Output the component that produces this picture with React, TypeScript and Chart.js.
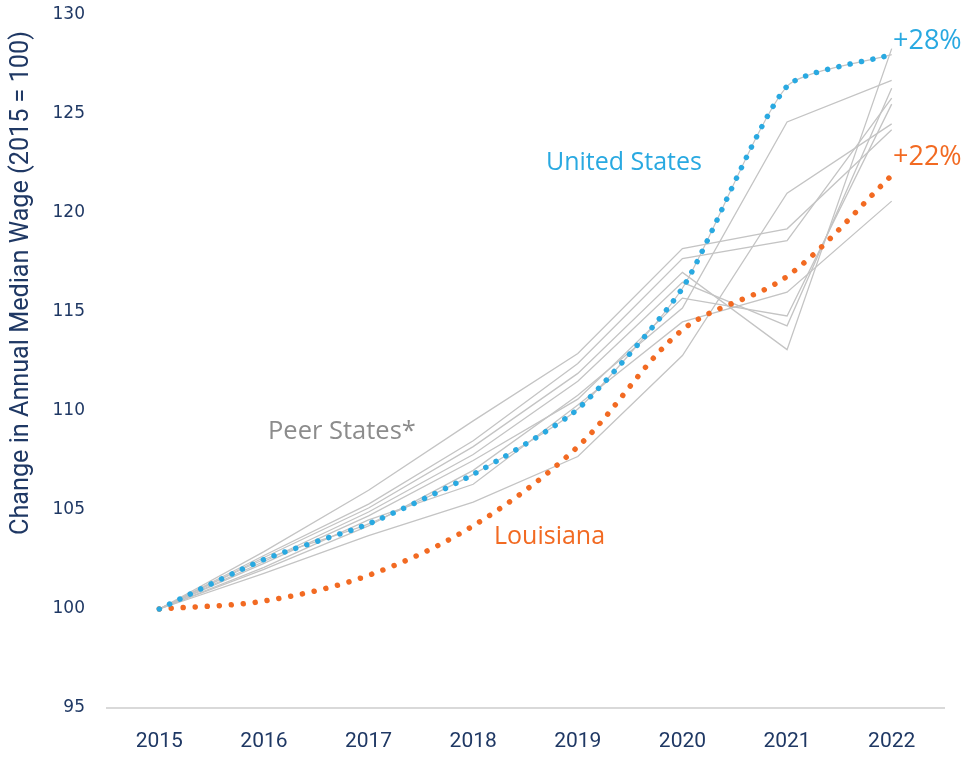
import React, { useEffect, useRef } from "react";
import { Chart, registerables } from "chart.js";

Chart.register(...registerables);

const years = ["2015", "2016", "2017", "2018", "2019", "2020", "2021", "2022"];

const unitedStates = [100, 102.5, 104.3, 106.8, 110.1, 116.2, 126.4, 128.0];
const louisiana = [100, 100.4, 101.7, 104.2, 108.2, 114.1, 116.8, 121.9];

const peer1 = [100, 102.9, 106.0, 109.5, 112.9, 118.2, 119.2, 124.2];
const peer2 = [100, 102.7, 105.3, 108.5, 112.4, 117.7, 118.6, 125.8];
const peer3 = [100, 102.6, 105.1, 108.2, 111.9, 117.0, 113.1, 128.3];
const peer4 = [100, 102.4, 104.9, 107.8, 111.5, 116.5, 114.3, 126.3];
const peer5 = [100, 102.3, 104.7, 107.5, 110.6, 115.7, 114.8, 125.5];
const peer6 = [100, 102.1, 104.5, 106.3, 110.3, 114.5, 116.0, 120.6];
const peer7 = [100, 102.0, 104.2, 107.0, 110.8, 115.2, 124.6, 126.7];
const peer8 = [100, 101.8, 103.7, 105.4, 107.7, 112.8, 121.0, 124.5];
const peers = [peer1, peer2, peer3, peer4, peer5, peer6, peer7, peer8];

const yMin = 95;
const yMax = 130;
const yStep = 5;

const axisTitle = "Change in Annual Median Wage (2015 = 100)";
const usLabel = "United States";
const laLabel = "Louisiana";
const peerLabel = "Peer States*";
const usChange = "+28%";
const laChange = "+22%";

const NAVY = "#1F3864";
const BLUE = "#29A9E1";
const ORANGE = "#F26A22";
const GRAY = "#C4C4C4";
const SANS = '"Open Sans", sans-serif';

const textPlugin = {
  id: "texts",
  afterDatasetsDraw(chart: any) {
    const ctx = chart.ctx;
    ctx.save();
    ctx.textBaseline = "middle";
    ctx.textAlign = "left";
    ctx.font = "25px " + SANS;
    ctx.fillStyle = BLUE;
    ctx.fillText(usLabel, 546, 163);
    ctx.fillStyle = "#8C8C8C";
    ctx.font = "25.5px " + SANS;
    ctx.fillText(peerLabel, 268, 432);
    ctx.font = "25px " + SANS;
    ctx.fillStyle = ORANGE;
    ctx.fillText(laLabel, 494, 537);
    ctx.font = "27px " + SANS;
    ctx.fillStyle = BLUE;
    ctx.fillText(usChange, 893, 41);
    ctx.fillStyle = ORANGE;
    ctx.fillText(laChange, 893, 157);
    // y axis title, fitted to its length in the reference
    ctx.translate(22, 283);
    ctx.rotate(-Math.PI / 2);
    ctx.textAlign = "center";
    ctx.fillStyle = NAVY;
    ctx.font = "20px Roboto, sans-serif";
    const w = ctx.measureText(axisTitle).width;
    const size = (20 * 505) / w;
    ctx.font = size.toFixed(1) + "px Roboto, sans-serif";
    ctx.fillText(axisTitle, 0, 0);
    ctx.restore();
  },
};

export default function App() {
  const ref = useRef<HTMLCanvasElement | null>(null);
  useEffect(() => {
    if (!ref.current) return;
    const peerSets = peers.map((p) => ({
      data: p,
      borderColor: GRAY,
      borderWidth: 1.3,
      pointRadius: 0,
      tension: 0,
      order: 3,
    }));
    const chart = new Chart(ref.current, {
      type: "line",
      data: {
        labels: years,
        datasets: [
          {
            data: unitedStates,
            borderColor: BLUE,
            borderWidth: 5.5,
            borderDash: [0.01, 11.5],
            borderCapStyle: "round",
            pointRadius: 0,
            tension: 0.2,
            order: 1,
          },
          {
            data: louisiana,
            borderColor: ORANGE,
            borderWidth: 5.5,
            borderDash: [0.01, 12],
            borderCapStyle: "round",
            pointRadius: 0,
            tension: 0.33,
            order: 2,
          },
          {
            data: unitedStates,
            borderColor: GRAY,
            borderWidth: 1.2,
            pointRadius: 0,
            tension: 0.2,
            order: 3,
          },
          ...peerSets,
        ],
      } as any,
      options: {
        animation: false,
        responsive: false,
        layout: { padding: { left: 0, right: 30, top: 0, bottom: 0 } },
        plugins: { legend: { display: false }, tooltip: { enabled: false } },
        scales: {
          x: {
            offset: true,
            grid: { display: false, drawTicks: false },
            border: { display: true, color: "#D9D9D9", width: 2 },
            ticks: {
              color: NAVY,
              font: { family: "Roboto, sans-serif", size: 21 },
              padding: 21,
              maxRotation: 0,
            },
            afterFit(scale: any) {
              scale.height = 49;
              scale.paddingLeft = 0;
              scale.paddingRight = 0;
            },
          },
          y: {
            min: yMin,
            max: yMax,
            grid: { display: false, drawTicks: false },
            border: { display: false },
            ticks: {
              stepSize: yStep,
              color: NAVY,
              font: { family: '"DejaVu Sans", sans-serif', size: 17 },
              padding: 22,
            },
            afterFit(scale: any) {
              scale.width = 107;
              scale.paddingTop = 15;
              scale.paddingBottom = 0;
            },
          },
        },
      } as any,
      plugins: [textPlugin],
    });
    return () => chart.destroy();
  }, []);
  return (
    <div style={{ position: "absolute", left: 0, top: 0, width: 974, height: 757 }}>
      <canvas ref={ref} width={974} height={757} style={{ display: "block" }} />
    </div>
  );
}
